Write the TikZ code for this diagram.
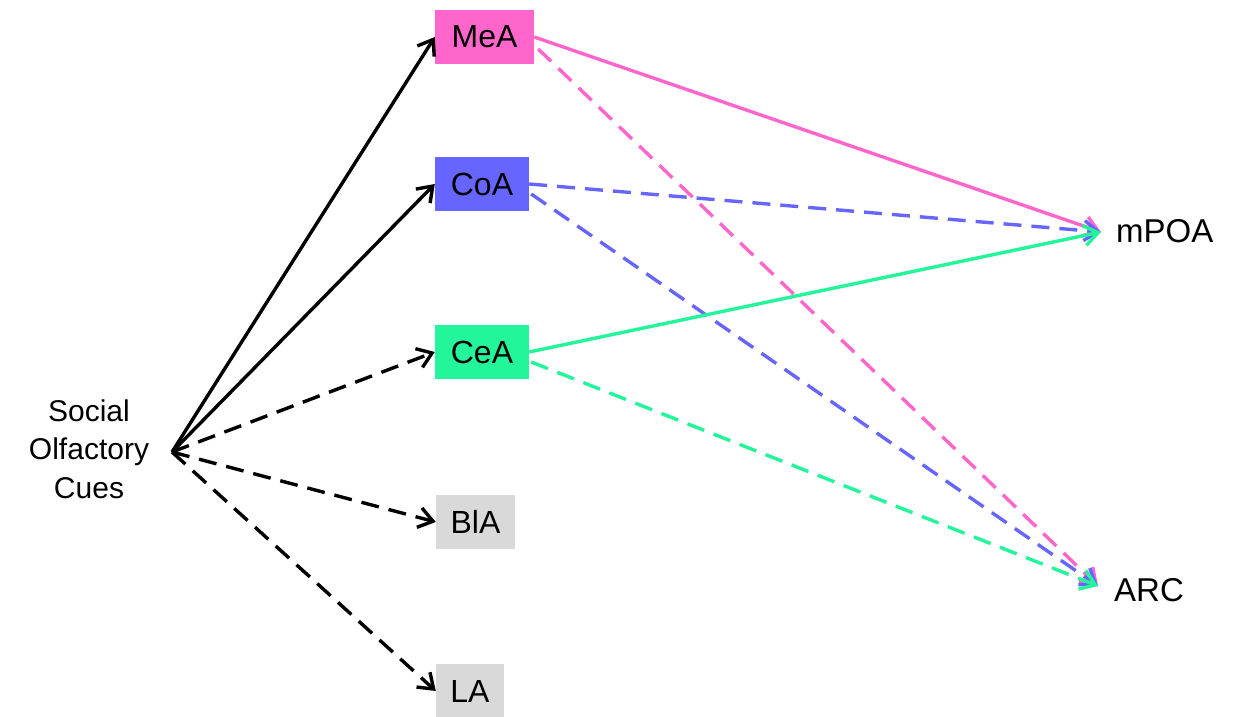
\documentclass[tikz,border=0pt]{standalone}
\usepackage{fontspec}
\setmainfont{Liberation Sans}
\usetikzlibrary{arrows.meta}
\definecolor{meacol}{HTML}{FF66CC}
\definecolor{coacol}{HTML}{6666FF}
\definecolor{ceacol}{HTML}{22F59A}
\definecolor{graycol}{HTML}{D9D9D9}
\begin{document}
\begin{tikzpicture}[x=1pt,y=-1pt,
  region/.style={inner sep=0pt, minimum height=54pt, font=\fontsize{32}{32}\selectfont, text=black},
  lbl/.style={font=\fontsize{33}{35}\selectfont, text=black},
  conn/.style={line width=3.4pt, -{Straight Barb[length=14pt,width=20pt,line width=3.4pt]}},
  dsh/.style={dash pattern=on 18pt off 10pt}
]
\useasboundingbox (0,0) rectangle (1235,717);
\node[region, fill=meacol, minimum width=99pt] (MeA) at (484.5,37) {MeA};
\node[region, fill=coacol, minimum width=94pt] (CoA) at (482,184) {CoA};
\node[region, fill=ceacol, minimum width=94pt] (CeA) at (482,352) {CeA};
\node[region, fill=graycol, minimum width=79pt] (BlA) at (475.5,522) {BlA};
\node[region, fill=graycol, minimum width=68pt] (LA) at (470,691) {LA};
\node[lbl, inner sep=2pt, anchor=west] (mPOA) at (1114,231) {mPOA};
\node[lbl, inner sep=2pt, anchor=west] (ARC) at (1112,590) {ARC};
\node[lbl, align=center, font=\fontsize{30}{38.5}\selectfont] (soc) at (89,449) {Social\\Olfactory\\Cues};
\coordinate (src) at (172,452);
\coordinate (mPOAin) at ([xshift=-13pt,yshift=-1pt]mPOA.west);
\coordinate (ARCin) at ([xshift=-14pt,yshift=4pt]ARC.west);

\draw[conn, black] (src) -- (MeA.west);
\draw[conn, black] (src) -- (CoA.west);
\draw[conn, black, dsh] (src) -- (CeA.west);
\draw[conn, black, dsh] (src) -- (BlA.west);
\draw[conn, black, dsh] (src) -- (LA.west);

\draw[conn, meacol] (MeA.east) -- (mPOAin);
\draw[conn, meacol, dsh] ([xshift=4pt,yshift=-12pt]MeA.east) -- (ARCin);
\draw[conn, coacol, dsh] (CoA.east) -- (mPOAin);
\draw[conn, coacol, dsh] ([xshift=2pt,yshift=-10pt]CoA.east) -- (ARCin);
\draw[conn, ceacol] (CeA.east) -- (mPOAin);
\draw[conn, ceacol, dsh] ([xshift=2pt,yshift=-10pt]CeA.east) -- (ARCin);
\end{tikzpicture}
\end{document}
